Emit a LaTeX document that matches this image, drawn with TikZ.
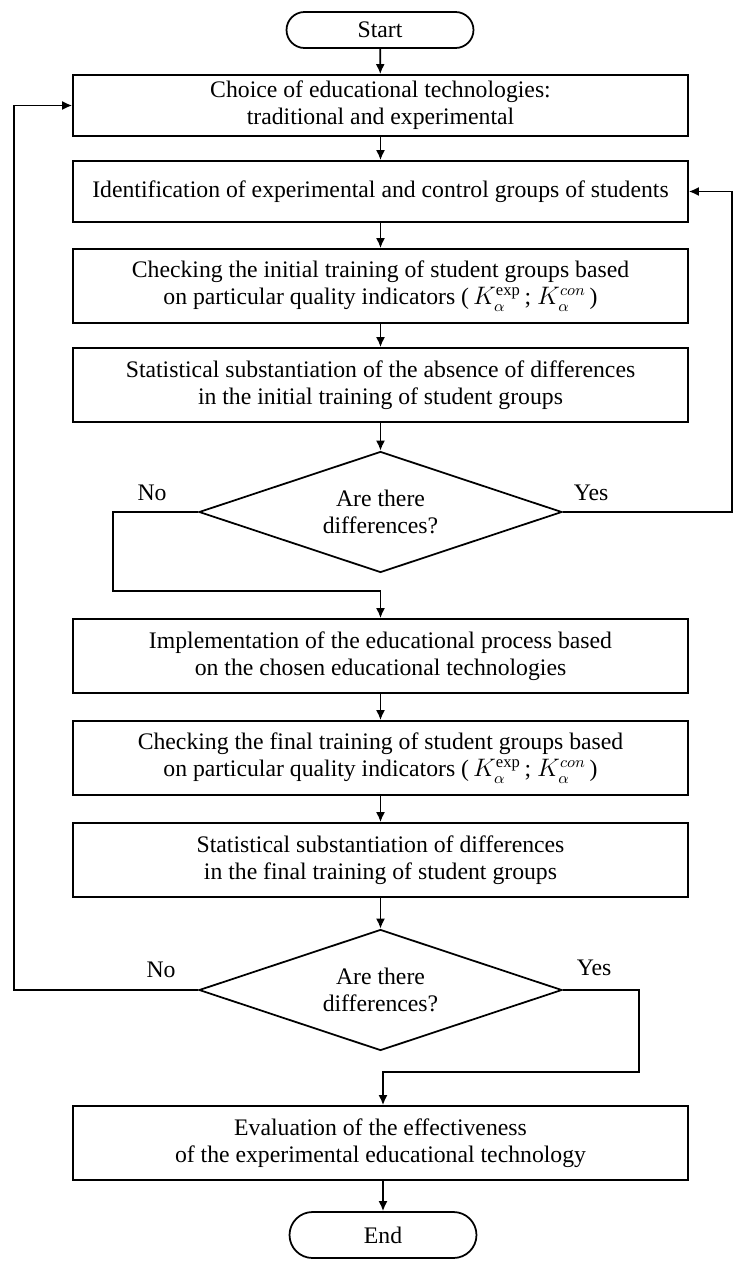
\documentclass[tikz,border=0pt]{standalone}
\usepackage{amsmath}
\usepackage{fontspec}
\setmainfont{Liberation Serif}
\usepackage{tikz}
\usetikzlibrary{shapes.geometric,arrows,arrows.meta,calc,positioning}

\begin{document}
\begin{tikzpicture}[x=0.02cm, y=-0.02cm, >={Latex[length=2mm,width=1.8mm]}, line width=1pt]
	\tikzstyle{every node} = [font=\fontsize{13.5}{15.5}\selectfont, align=center]
	\tikzstyle{box} = [rectangle, draw = black, minimum width=12.3cm, minimum height=1.48cm, inner sep=0pt]
	\tikzstyle{term} = [rectangle, draw = black, rounded corners=0.36cm, minimum width=3.74cm, minimum height=0.72cm]
	\tikzstyle{cond} = [diamond, aspect=3, draw = black, minimum width=7.26cm, minimum height=2.42cm, inner sep=0pt]
	\useasboundingbox (0,0) rectangle (734,1261);
\node[term] (0) at (380, 30) {Start};
\node[box, minimum height=1.22cm] (1) at (380.5, 105.5) {Choice of educational technologies:\\traditional and experimental};
\node[box, minimum height=1.22cm] (2) at (380.5, 191.5) {Identification of experimental and control groups of students};
\node[box] (3) at (380.5, 286) {Checking the initial training of student groups based\\on particular quality indicators (\,$K_{\alpha}^{\exp}$\,;\ $K_{\alpha}^{con}$\,)};
\node[box] (4) at (380.5, 385) {Statistical substantiation of the absence of differences\\in the initial training of student groups};
\node[cond] (5) at (380.5, 512) {Are there\\differences?};
\node[box] (6) at (380.5, 656) {Implementation of the educational process based\\on the chosen educational technologies};
\node[box] (7) at (380.5, 758) {Checking the final training of student groups based\\on particular quality indicators (\,$K_{\alpha}^{\exp}$\,;\ $K_{\alpha}^{con}$\,)};
\node[box] (8) at (380.5, 860) {Statistical substantiation of differences\\in the final training of student groups};
\node[cond] (9) at (380.5, 990) {Are there\\differences?};
\node[box] (10) at (380.5, 1143) {Evaluation of the effectiveness\\of the experimental educational technology};
\node[term, rounded corners=0.46cm, minimum height=0.92cm] (11) at (383, 1235) {End};
\node (12) at (152, 493) {No};
\node (13) at (591, 493) {Yes};
\node (14) at (161, 970) {No};
\node (15) at (594, 968) {Yes};
\coordinate (a) at (113, 591);
\coordinate (b) at (732, 191.5);
\coordinate (c) at (639, 1072);
\coordinate (d) at (14, 105.5);
	\path[draw,->] (0) -- (1);
	\path[draw,->] (1) -- (2);
	\path[draw,->] (2) -- (3);
	\path[draw,->] (3) -- (4);
	\path[draw,->] (4) -- (5);
	\path[draw,->] (5.west) -| (a) -- (a -| 6) -- (6);
	\path[draw,->] (5.east) -| (b) -- (2.east);
	\path[draw,->] (6) -- (7);
	\path[draw,->] (7) -- (8);
	\path[draw,->] (8) -- (9);
	\path[draw,->] (9.east) -| (c) -- (c -| 11) -- (10.north -| 11);
	\path[draw,->] (9.west) -| (d) -- (1.west);
	\path[draw,->] (10.south -| 11) -- (11);
	\end{tikzpicture}
\end{document}
